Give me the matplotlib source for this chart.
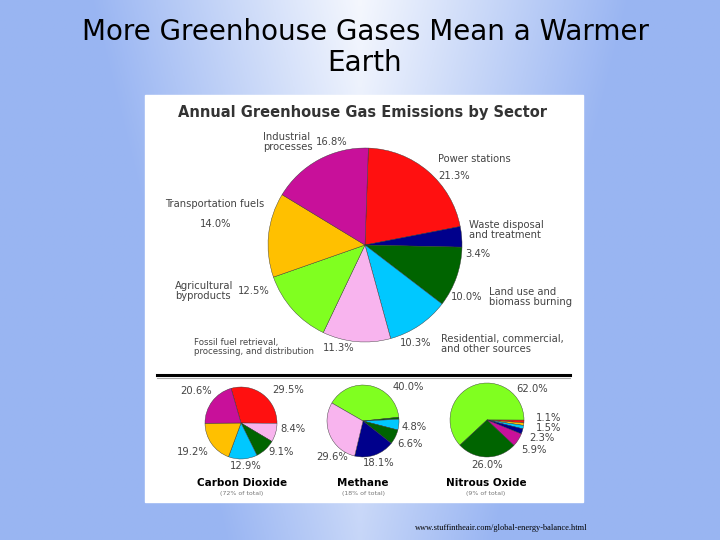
import matplotlib.pyplot as plt
import numpy as np

RED, NAVY, GREEN, CYAN = '#ff1010', '#00008c', '#006400', '#00c8ff'
PINK, LIME, ORANGE, MAG = '#f8b4ee', '#80ff20', '#ffc000', '#c8109a'

# main pie, clockwise from power stations
sectors = ['Power stations', 'Waste disposal', 'Land use', 'Residential',
           'Fossil fuel', 'Agricultural', 'Transportation', 'Industrial']
sector_pct = [21.3, 3.4, 10.0, 10.3, 11.3, 12.5, 14.0, 16.8]
sector_col = [RED, NAVY, GREEN, CYAN, PINK, LIME, ORANGE, MAG]

co2_pct = [29.5, 8.4, 9.1, 12.9, 19.2, 20.6]
co2_col = [RED, PINK, GREEN, CYAN, ORANGE, MAG]

ch4_pct = [40.0, 0.9, 4.8, 6.6, 18.1, 29.6]
ch4_col = [LIME, GREEN, CYAN, GREEN, NAVY, PINK]

n2o_pct = [62.0, 1.2, 1.1, 1.5, 2.3, 5.9, 26.0]
n2o_col = [LIME, RED, ORANGE, CYAN, NAVY, MAG, GREEN]

fig = plt.figure(figsize=(7.2, 5.4), dpi=100)

# background gradient
bg = fig.add_axes([0, 0, 1, 1])
xx = np.linspace(-1, 1, 300)
yy = np.linspace(0, 1, 200)
X, Y = np.meshgrid(xx, yy)
g = np.clip(np.abs(X) * 1.2 + Y * 0.45 + 0.1, 0, 1)
c0 = np.array([1.0, 1.0, 1.0])
c1 = np.array([0.60, 0.71, 0.95])
img = c0[None, None, :] * (1 - g[..., None]) + c1[None, None, :] * g[..., None]
bg.imshow(img, extent=[0, 720, 540, 0], aspect='auto')
bg.set_xlim(0, 720)
bg.set_ylim(540, 0)
bg.axis('off')

ax = fig.add_axes([0, 0, 1, 1])
ax.patch.set_alpha(0)
ax.add_patch(plt.Rectangle((145, 95), 438, 407, color='white', zorder=0))

# y axis is inverted, so angles are mirrored: counterclock=True draws clockwise
wp = dict(edgecolor='#333333', linewidth=0.3)
ax.pie(sector_pct, colors=sector_col, startangle=-88, counterclock=True,
       center=(365, 245), radius=97, wedgeprops=wp, frame=True)
ax.pie(co2_pct, colors=co2_col, startangle=-106, counterclock=True,
       center=(241, 423), radius=36, wedgeprops=wp, frame=True)
ax.pie(ch4_pct, colors=ch4_col, startangle=-150, counterclock=True,
       center=(363, 421), radius=36, wedgeprops=wp, frame=True)
ax.pie(n2o_pct, colors=n2o_col, startangle=-223, counterclock=True,
       center=(487, 420), radius=37, wedgeprops=wp, frame=True)

ax.set_xlim(0, 720)
ax.set_ylim(540, 0)
ax.set_aspect('auto')
ax.axis('off')

ax.text(365, 18, 'More Greenhouse Gases Mean a Warmer\nEarth', ha='center',
        va='top', fontsize=20, color='black', linespacing=1.15)
ax.text(363, 112, 'Annual Greenhouse Gas Emissions by Sector', ha='center',
        va='center', fontsize=10.5, fontweight='bold', color='#333333')

gray = '#444444'
fs = 7.2
labels = [
    (263, 142, 'Industrial\nprocesses'), (316, 142, '16.8%'),
    (438, 159, 'Power stations'), (438, 176, '21.3%'),
    (165, 204, 'Transportation fuels'), (200, 224, '14.0%'),
    (469, 230, 'Waste disposal\nand treatment'), (465, 254, '3.4%'),
    (175, 291, 'Agricultural\nbyproducts'), (238, 291, '12.5%'),
    (489, 297, 'Land use and\nbiomass burning'), (451, 297, '10.0%'),
    (323, 348, '11.3%'), (400, 343, '10.3%'),
    (441, 344, 'Residential, commercial,\nand other sources'),
    (180, 391, '20.6%'), (272, 390, '29.5%'),
    (280, 429, '8.4%'), (268, 452, '9.1%'),
    (177, 452, '19.2%'), (230, 466, '12.9%'),
    (393, 387, '40.0%'), (402, 427, '4.8%'),
    (397, 444, '6.6%'), (316, 457, '29.6%'),
    (363, 463, '18.1%'),
    (516, 389, '62.0%'), (536, 418, '1.1%'),
    (536, 428, '1.5%'), (529, 438, '2.3%'),
    (521, 450, '5.9%'), (471, 465, '26.0%'),
]
for x, y, s in labels:
    ax.text(x, y, s, ha='left', va='center', fontsize=fs, color=gray,
            linespacing=1.05)
ax.text(194, 347, 'Fossil fuel retrieval,\nprocessing, and distribution',
        ha='left', va='center', fontsize=6.2, color=gray, linespacing=1.1)

ax.plot([157, 570], [375, 375], color='black', lw=2.2)
ax.plot([157, 570], [377.5, 377.5], color='#aaaaaa', lw=0.8)

for cx, name, sub in [(242, 'Carbon Dioxide', '(72% of total)'),
                      (363, 'Methane', '(18% of total)'),
                      (486, 'Nitrous Oxide', '(9% of total)')]:
    ax.text(cx, 483, name, ha='center', va='center', fontsize=7.5, fontweight='bold')
    ax.text(cx, 494, sub, ha='center', va='center', fontsize=4.5, color='#777777')

ax.text(415, 528, 'www.stuffintheair.com/global-energy-balance.html', ha='left',
        va='center', fontsize=6, family='Liberation Serif')

fig.savefig('out.png', dpi=100)
